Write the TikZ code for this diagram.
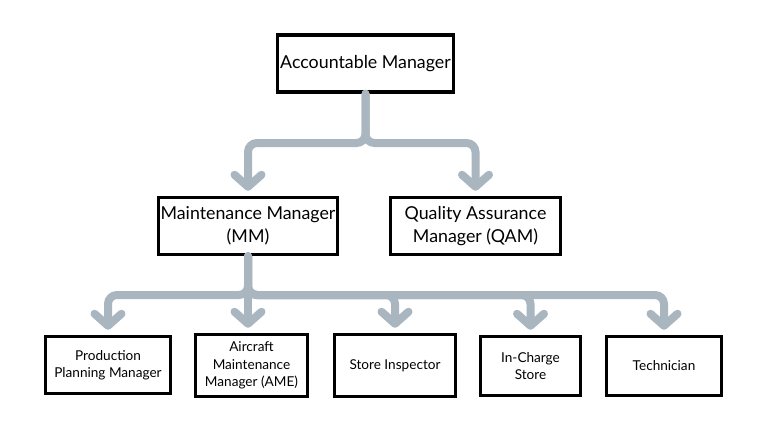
\documentclass[tikz,border=0pt]{standalone}
\usepackage{fontspec}
\setmainfont{Lato}
\usetikzlibrary{arrows.meta}
\definecolor{conncol}{HTML}{A9B6BF}
\tikzset{
  box/.style={draw=black, line width=3.5pt, fill=white, align=center, inner sep=2pt},
  bigbox/.style={box, font=\fontsize{17.8}{23}\selectfont},
  smallbox/.style={box, font=\fontsize{13.6}{17.5}\selectfont},
  conn/.style={draw=conncol, line width=8pt, rounded corners=9pt, line cap=round},
  arr/.style={conn, -{Straight Barb[length=12pt,width=27pt,round,line width=8pt]}, shorten >=5pt}
}
\begin{document}
\begin{tikzpicture}[x=1pt,y=-1pt]
\useasboundingbox (0,0) rectangle (768,431);
\fill[white] (0,0) rectangle (768,431);

\coordinate (bar1) at (365.5,143);
\coordinate (bar2) at (248,295);

\node[bigbox, minimum width=176pt, minimum height=57pt] (am) at (365.5,63.5) {Accountable Manager};
\node[bigbox, minimum width=177pt, minimum height=57pt] (mm) at (248,226) {Maintenance Manager\\(MM)};
\node[bigbox, minimum width=170pt, minimum height=57pt] (qam) at (475.5,226) {Quality Assurance\\Manager (QAM)};

\node[smallbox, minimum width=125pt, minimum height=57pt] (ppm) at (108,365) {Production\\Planning Manager};
\node[smallbox, minimum width=112pt, minimum height=62pt] (ame) at (251.5,365.5) {Aircraft\\Maintenance\\Manager (AME)};
\node[smallbox, minimum width=121pt, minimum height=62pt] (si) at (395,365.5) {Store Inspector};
\node[smallbox, minimum width=100pt, minimum height=59pt] (ic) at (530.5,366) {In-Charge\\Store};
\node[smallbox, minimum width=115pt, minimum height=59pt] (tech) at (664,366) {Technician};

\draw[arr] (am.south) -- (am.south |- bar1) -| (mm.north);
\draw[arr] (am.south) -- (am.south |- bar1) -| (qam.north);

\draw[arr] (mm.south) -- (mm.south |- bar2) -| (ppm.north);
\draw[arr] (mm.south) -- (mm.south |- ame.north);
\draw[arr] (mm.south) -- (mm.south |- bar2) -| (si.north);
\draw[arr] (mm.south) -- (mm.south |- bar2) -| (ic.north);
\draw[arr] (mm.south) -- (mm.south |- bar2) -| (tech.north);
\end{tikzpicture}
\end{document}
